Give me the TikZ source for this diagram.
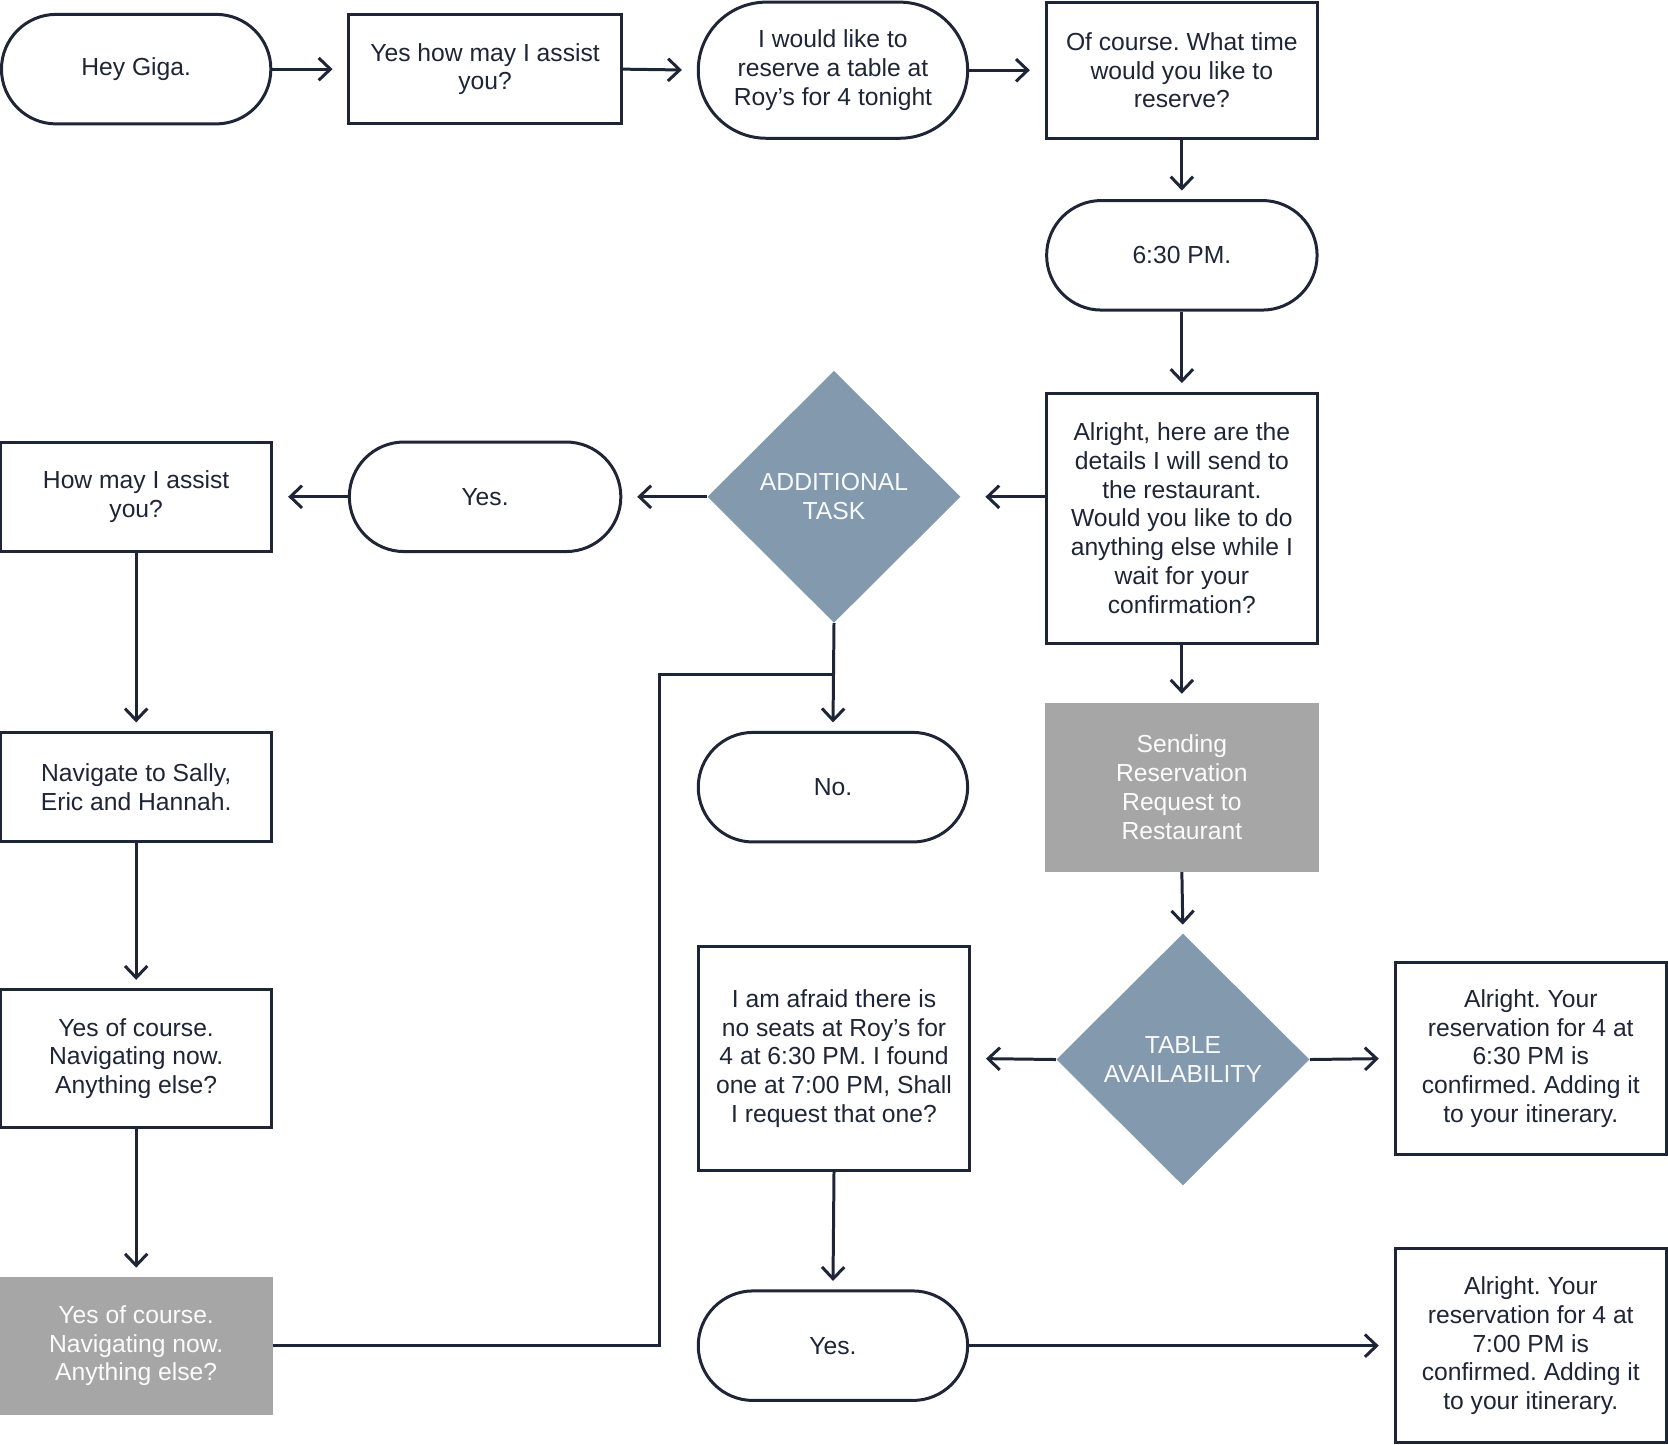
\documentclass[tikz,border=0pt]{standalone}
\usepackage{fontspec}
\setmainfont{Liberation Sans}
\usetikzlibrary{shapes.geometric,shapes.misc,arrows.meta}
\definecolor{ink}{HTML}{1E2536}
\definecolor{slate}{HTML}{8399AE}
\definecolor{fog}{HTML}{A6A6A6}
\newcommand{\chatfont}{\fontsize{13.2}{15.4}\selectfont}
\frenchspacing

\begin{document}
\begin{tikzpicture}[x=0.02cm, y=-0.02cm,
  block/.style={draw=ink, line width=1.6pt, minimum width=5.1cm, minimum height=2.06cm, align=center, text=ink, font=\chatfont},
  pill/.style={block, rounded rectangle, minimum width=5.3cm},
  decision/.style={diamond, fill=slate, text=white!94!slate, minimum width=4.76cm, minimum height=4.74cm, inner sep=0pt, align=center, font=\chatfont},
  shaded/.style={fill=fog, text=white!95!fog, minimum width=5.14cm, align=center, font=\chatfont},
  wire/.style={draw=ink, line width=1.6pt},
  link/.style={wire, -{Straight Barb[length=2.2mm, width=4.2mm]}, shorten >=0.28cm},
  vlink/.style={link, shorten >=0.16cm}]

  \useasboundingbox (0,0) rectangle (1568,1358);

  % First row
  \node[pill] (hey) at (128,65) {Hey Giga.};
  \node[block, minimum width=5.12cm] (assist) at (456,65) {Yes how may I assist\\you?};
  \node[pill, minimum height=2.56cm] (ask) at (783,66) {I would like to\\reserve a table at\\Roy’s for 4 tonight};
  \node[block, minimum height=2.56cm] (when) at (1111,66) {Of course. What time\\would you like to\\reserve?};

  % Right column
  \node[pill, minimum width=5.32cm] (time) at (1111,240) {6:30 PM.};
  \node[block, minimum height=4.7cm] (details) at (1111,487) {Alright, here are the\\details I will send to\\the restaurant.\\Would you like to do\\anything else while I\\wait for your\\confirmation?};
  \node[shaded, minimum height=3.18cm] (send) at (1111,740) {Sending\\Reservation\\Request to\\Restaurant};

  % Additional task branch
  \node[decision] (extra) at (784,467) {ADDITIONAL\\TASK};
  \node[pill, minimum width=5.34cm] (yes1) at (456,467) {Yes.};
  \node[block] (how) at (128,467) {How may I assist\\you?};
  \node[block] (nav) at (128,740) {Navigate to Sally,\\Eric and Hannah.};
  \node[block, minimum height=2.58cm] (ok) at (128,995) {Yes of course.\\Navigating now.\\Anything else?};
  \node[shaded, minimum height=2.6cm] (okgrey) at (128,1265) {Yes of course.\\Navigating now.\\Anything else?};
  \node[pill] (no) at (783,740) {No.};

  % Table availability branch
  \node[decision] (table) at (1112,996) {TABLE\\AVAILABILITY};
  \node[block, minimum height=4.22cm] (sorry) at (784,995) {I am afraid there is\\no seats at Roy’s for\\4 at 6:30 PM. I found\\one at 7:00 PM, Shall\\I request that one?};
  \node[block, minimum height=3.62cm] (done1) at (1439,995) {Alright. Your\\reservation for 4 at\\6:30 PM is\\confirmed. Adding it\\to your itinerary.};
  \node[pill] (yes2) at (783,1265) {Yes.};
  \node[block, minimum height=3.64cm] (done2) at (1439,1265) {Alright. Your\\reservation for 4 at\\7:00 PM is\\confirmed. Adding it\\to your itinerary.};

  % Horizontal arrows
  \draw[link] (hey.east) -- (assist.west);
  \draw[link] (assist.east) -- (ask.west);
  \draw[link] (ask.east) -- (when.west);
  \draw[link, shorten >=0.46cm] (extra.east -| details.west) -- (extra.east);
  \draw[link] (extra.west) -- (yes1.east);
  \draw[link] (yes1.west) -- (how.east);
  \draw[link] (table.west) -- (sorry.east);
  \draw[link] (table.east) -- (done1.west);
  \draw[link] (yes2.east) -- (done2.west);

  % Vertical arrows
  \draw[vlink] (when.south) -- (time.north);
  \draw[vlink] (time.south) -- (details.north);
  \draw[vlink] (details.south) -- (send.north);
  \draw[vlink] (send.south) -- (table.north);
  \draw[vlink] (extra.south) -- (no.north);
  \draw[vlink] (how.south) -- (nav.north);
  \draw[vlink] (nav.south) -- (ok.north);
  \draw[vlink] (ok.south) -- (okgrey.north);
  \draw[vlink] (sorry.south) -- (yes2.north);

  % back to the task diamond
  \coordinate (bend) at (620,634);
  \draw[wire] (okgrey.east) -| (bend) -- (bend -| extra.south);

\end{tikzpicture}
\end{document}
